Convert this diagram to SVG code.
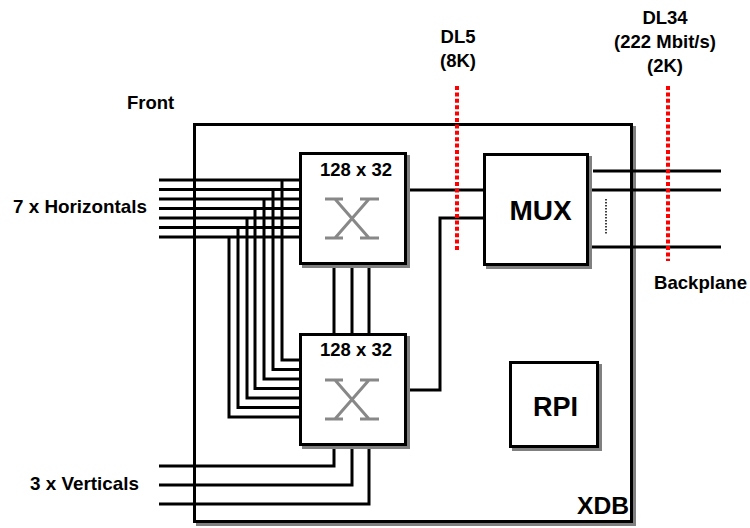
<svg xmlns="http://www.w3.org/2000/svg" width="750" height="528" viewBox="0 0 750 528">
<style>
text{font-family:"Liberation Sans",Arial,sans-serif;font-weight:bold;fill:#000}
.lbl{font-size:18.5px}
.box{fill:#fff;stroke:#000;stroke-width:3}
.shadow{fill:#808080;stroke:#808080;stroke-width:3}
.w{fill:none;stroke:#000;stroke-width:3}
.xs{fill:none;stroke:#888;stroke-width:3}
.red{fill:none;stroke:#f00;stroke-width:4;stroke-dasharray:4 2.4}
</style>
<rect width="750" height="528" fill="#fff"/>
<g id="xdb">
<rect class="shadow" x="197.5" y="127.5" width="437" height="397"/>
<rect class="box" x="194.5" y="124.5" width="437" height="397"/>
<text x="577" y="514" font-size="24.5" textLength="52" lengthAdjust="spacingAndGlyphs">XDB</text>
</g>
<g id="labels">
<text class="lbl" x="127" y="109">Front</text>
<text class="lbl" x="13" y="213" textLength="134" lengthAdjust="spacingAndGlyphs">7 x Horizontals</text>
<text class="lbl" x="30" y="490" textLength="109" lengthAdjust="spacingAndGlyphs">3 x Verticals</text>
<text class="lbl" x="654" y="289" textLength="93" lengthAdjust="spacingAndGlyphs">Backplane</text>
<text class="lbl" x="458" y="43" text-anchor="middle">DL5</text>
<text class="lbl" x="458" y="67" text-anchor="middle">(8K)</text>
<text class="lbl" x="665" y="24" text-anchor="middle">DL34</text>
<text class="lbl" x="665" y="48" text-anchor="middle">(222 Mbit/s)</text>
<text class="lbl" x="665" y="72" text-anchor="middle">(2K)</text>
</g>
<g id="connectors">
<path class="w" d="M159 180H299M159 189.5H299M159 199H299M159 208.5H299M159 218H299M159 227.5H299M159 237H299"/>
<path class="w" d="M282 180V360H299M273 189.5V369.5H299M264 199V379H299M255 208.5V388.5H299M247 218V398H299M238 227.5V407.5H299M229 237V417H299"/>
<path class="w" d="M334 265V333M352 265V333M369 265V333"/>
<path class="w" d="M334 446V466H159M352 446V485H159M369 446V504H159"/>
<path class="w" d="M407 190H483"/>
<path class="w" d="M407 390H440V218H483"/>
<path class="w" d="M593 171H721M589 190H721M589 247H721"/>
<path d="M606 199V235" stroke="#000" stroke-width="1.5" stroke-dasharray="1.5 1.5"/>
<path class="red" d="M457 86V252"/>
<path class="red" d="M668 86V261"/>
</g>
<g id="xbar1">
<rect class="shadow" x="303.5" y="156.5" width="105" height="110"/>
<rect class="box" x="300.5" y="153.5" width="105" height="110"/>
<text class="lbl" x="356" y="176" text-anchor="middle">128 x 32</text>
<path class="xs" d="M325 199H343M360 199H379M325 238H343M360 238H379M335 199L369 238M369 199L335 238"/>
</g>
<g id="xbar2">
<rect class="shadow" x="303.5" y="337.5" width="105" height="110"/>
<rect class="box" x="300.5" y="334.5" width="105" height="110"/>
<text class="lbl" x="356" y="356" text-anchor="middle">128 x 32</text>
<path class="xs" d="M325 380H343M360 380H379M325 419H343M360 419H379M335 380L369 419M369 380L335 419"/>
</g>
<g id="mux">
<rect class="shadow" x="487.5" y="157.5" width="103" height="110"/>
<rect class="box" x="484.5" y="154.5" width="103" height="110"/>
<text x="540.5" y="220" font-size="28" text-anchor="middle">MUX</text>
</g>
<g id="rpi">
<rect class="shadow" x="513.5" y="365.5" width="87" height="84"/>
<rect class="box" x="510.5" y="362.5" width="87" height="84"/>
<text x="555.5" y="416" font-size="27" text-anchor="middle">RPI</text>
</g>
</svg>
